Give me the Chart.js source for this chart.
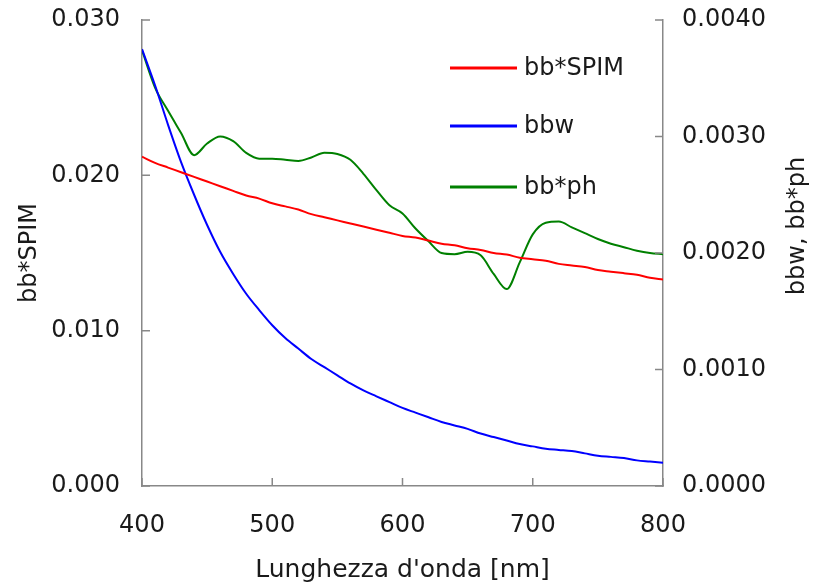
<!DOCTYPE html>
<html>
<head>
<meta charset="utf-8">
<script src="https://cdn.jsdelivr.net/npm/chart.js@4/dist/chart.umd.min.js"></script>
<style>
  html, body { margin: 0; padding: 0; background: #fff; }
  #wrap { width: 813px; height: 588px; }
</style>
</head>
<body>
<div id="wrap"><canvas id="bbChart" width="813" height="588"></canvas></div>
<script>
// Wavelengths [nm]
const wavelengths = [400, 410, 420, 430, 440, 450, 460, 470, 480, 490,
                     500, 510, 520, 530, 540, 550, 560, 570, 580, 590,
                     600, 610, 620, 630, 640, 650, 660, 670, 680, 690,
                     700, 710, 720, 730, 740, 750, 760, 770, 780, 790, 800];

// bb*SPIM (left axis)
const bbSpim = [0.0212, 0.0208, 0.0205, 0.0202, 0.0199, 0.0196, 0.0193, 0.0190, 0.0187, 0.0185,
                0.0182, 0.0180, 0.0178, 0.0175, 0.0173, 0.0171, 0.0169, 0.0167, 0.0165, 0.0163,
                0.0161, 0.0160, 0.0158, 0.0156, 0.0155, 0.0153, 0.0152, 0.0150, 0.0149, 0.0147,
                0.0146, 0.0145, 0.0143, 0.0142, 0.0141, 0.0139, 0.0138, 0.0137, 0.0136, 0.0134, 0.0133];

// bbw (right axis)
const bbw = [0.00375, 0.00344, 0.00310, 0.00278, 0.00250, 0.00224, 0.00201, 0.00182, 0.00165, 0.00151,
             0.00138, 0.00127, 0.00118, 0.00109, 0.00102, 0.00095, 0.00088, 0.00082, 0.00077, 0.00072,
             0.00067, 0.00063, 0.00059, 0.00055, 0.00052, 0.00049, 0.00045, 0.00042, 0.00039, 0.00036,
             0.00034, 0.00032, 0.00031, 0.00030, 0.00028, 0.00026, 0.00025, 0.00024, 0.00022, 0.00021, 0.00020];

// bb*ph (right axis)
const bbPh = [0.00374, 0.00342, 0.00322, 0.00303, 0.00284, 0.00294, 0.00300, 0.00296, 0.00286, 0.00281,
              0.00281, 0.00280, 0.00279, 0.00282, 0.00286, 0.00285, 0.00280, 0.00268, 0.00254, 0.00241,
              0.00234, 0.00221, 0.00210, 0.00200, 0.00199, 0.00201, 0.00198, 0.00182, 0.00169, 0.00192,
              0.00216, 0.00226, 0.00227, 0.00222, 0.00217, 0.00212, 0.00208, 0.00205, 0.00202, 0.00200, 0.00199];

const axisColor = '#888888';
const fontFamily = "'DejaVu Sans', Verdana, sans-serif";

Chart.defaults.font.family = fontFamily;
Chart.defaults.font.size = 24;
Chart.defaults.color = '#1a1a1a';

function toPoints(values) {
    return wavelengths.map((w, i) => ({ x: w, y: values[i] }));
}

// Inward tick marks, Excel style
const insideTicks = {
    id: 'insideTicks',
    afterDraw(chart) {
        const ctx = chart.ctx;
        const area = chart.chartArea;
        const len = 8;
        ctx.save();
        ctx.strokeStyle = axisColor;
        ctx.lineWidth = 1.5;
        ctx.beginPath();
        chart.scales.x.ticks.forEach(t => {
            const px = chart.scales.x.getPixelForValue(t.value);
            ctx.moveTo(px, area.bottom);
            ctx.lineTo(px, area.bottom - len);
        });
        chart.scales.yL.ticks.forEach(t => {
            const py = chart.scales.yL.getPixelForValue(t.value);
            ctx.moveTo(area.left, py);
            ctx.lineTo(area.left + len, py);
        });
        chart.scales.yR.ticks.forEach(t => {
            const py = chart.scales.yR.getPixelForValue(t.value);
            ctx.moveTo(area.right, py);
            ctx.lineTo(area.right - len, py);
        });
        ctx.stroke();
        ctx.restore();
    }
};

// Legend inside the plot + right axis title reading bottom-to-top
const innerLegend = {
    id: 'innerLegend',
    afterDraw(chart) {
        const ctx = chart.ctx;
        ctx.save();
        ctx.font = '24px ' + fontFamily;
        ctx.textBaseline = 'middle';
        ctx.textAlign = 'left';
        const x0 = 450, x1 = 517, tx = 524;
        const rows = [68, 126, 187];
        chart.data.datasets.forEach((ds, i) => {
            ctx.strokeStyle = ds.borderColor;
            ctx.lineWidth = 3;
            ctx.beginPath();
            ctx.moveTo(x0, rows[i]);
            ctx.lineTo(x1, rows[i]);
            ctx.stroke();
            ctx.fillStyle = '#1a1a1a';
            ctx.fillText(ds.label, tx, rows[i] + 1);
        });
        // right axis title
        ctx.translate(798, 226);
        ctx.rotate(-Math.PI / 2);
        ctx.textAlign = 'center';
        ctx.fillText('bbw, bb*ph', 0, 0);
        ctx.restore();
    }
};

function fixWidth(w) {
    return function (scale) {
        scale.width = w;
        scale.paddingTop = 0;
        scale.paddingBottom = 0;
    };
}

new Chart(document.getElementById('bbChart'), {
    type: 'line',
    data: {
        datasets: [
            {
                label: 'bb*SPIM',
                data: toPoints(bbSpim),
                yAxisID: 'yL',
                borderColor: '#ff0000',
                borderWidth: 2,
                pointRadius: 0,
                cubicInterpolationMode: 'monotone'
            },
            {
                label: 'bbw',
                data: toPoints(bbw),
                yAxisID: 'yR',
                borderColor: '#0000ff',
                borderWidth: 2,
                pointRadius: 0,
                cubicInterpolationMode: 'monotone'
            },
            {
                label: 'bb*ph',
                data: toPoints(bbPh),
                yAxisID: 'yR',
                borderColor: '#008000',
                borderWidth: 2,
                pointRadius: 0,
                cubicInterpolationMode: 'monotone'
            }
        ]
    },
    options: {
        responsive: false,
        animation: false,
        layout: { padding: { top: 20, left: 0, right: 0, bottom: 0 } },
        plugins: {
            legend: { display: false },
            tooltip: { enabled: false }
        },
        scales: {
            x: {
                type: 'linear',
                min: 400,
                max: 800,
                ticks: { stepSize: 100, padding: 25 },
                grid: { display: false, drawTicks: false },
                border: { color: axisColor, width: 1.5 },
                title: {
                    display: true,
                    text: "Lunghezza d'onda [nm]",
                    font: { size: 25 },
                    padding: { top: 0, bottom: 3 }
                },
                afterFit(scale) { scale.height = 102; }
            },
            yL: {
                position: 'left',
                min: 0,
                max: 0.030,
                ticks: {
                    stepSize: 0.010,
                    padding: 22,
                    callback: v => v.toFixed(3)
                },
                grid: { display: false, drawTicks: false },
                border: { color: axisColor, width: 1.5 },
                title: {
                    display: true,
                    text: 'bb*SPIM',
                    padding: { top: 15, bottom: 0 }
                },
                afterFit: fixWidth(142)
            },
            yR: {
                position: 'right',
                min: 0,
                max: 0.004,
                ticks: {
                    stepSize: 0.001,
                    padding: 19,
                    callback: v => v.toFixed(4)
                },
                grid: { display: false, drawTicks: false },
                border: { color: axisColor, width: 1.5 },
                afterFit: fixWidth(150)
            }
        }
    },
    plugins: [insideTicks, innerLegend]
});
</script>
</body>
</html>
